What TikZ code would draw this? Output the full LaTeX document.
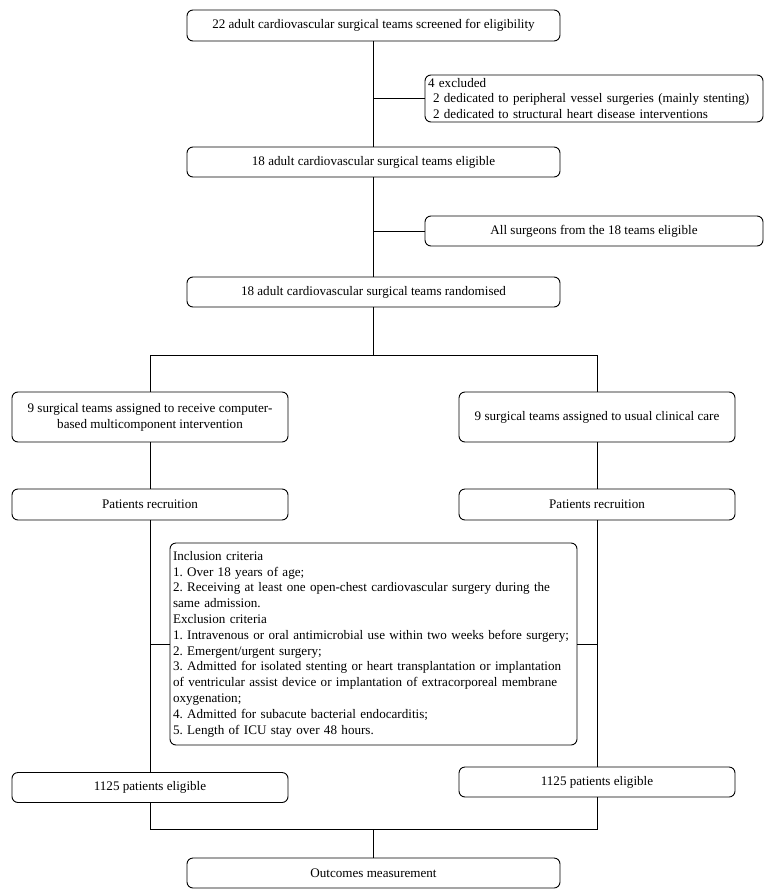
\documentclass[tikz,border=0pt]{standalone}
\usepackage{fontspec}
\setmainfont{Liberation Serif}
\frenchspacing

\tikzset{
  box/.style={draw, rounded corners=6pt, line width=0.9pt, inner sep=3pt,
    font=\fontsize{13.1}{15.8}\selectfont},
  wide/.style={minimum width=373pt, minimum height=30pt},
  side/.style={minimum width=338pt, minimum height=30pt},
  arm/.style={minimum width=276pt, minimum height=30pt},
  link/.style={line width=0.9pt}
}

\begin{document}
\begin{tikzpicture}[x=1pt, y=-1pt]
\useasboundingbox (0,0) rectangle (765,891);

% Screening
\node [box, wide, minimum height=31pt] (screen) at (373.5, 25.5) {22 adult cardiovascular surgical teams screened for eligibility};
\node [box, side, minimum height=47pt, text width=332pt, align=left] (excl) at (594, 98.5)
  {4 excluded\\\hspace*{5pt}2 dedicated to peripheral vessel surgeries (mainly stenting)\\\hspace*{5pt}2 dedicated to structural heart disease interventions};
\node [box, wide] (elig) at (373.5, 162) {18 adult cardiovascular surgical teams eligible};
\node [box, side] (surgeons) at (594, 231) {All surgeons from the 18 teams eligible};
\node [box, wide] (rand) at (373.5, 292) {18 adult cardiovascular surgical teams randomised};

% Arms
\node [box, arm, minimum height=50pt, align=center] (armA) at (150, 417) {9 surgical teams assigned to receive computer-\\based multicomponent intervention};
\node [box, arm, minimum height=50pt] (armB) at (597, 417) {9 surgical teams assigned to usual clinical care};
\node [box, arm, minimum height=31pt] (recA) at (150, 504.5) {Patients recruition};
\node [box, arm, minimum height=31pt] (recB) at (597, 504.5) {Patients recruition};

% Criteria
\node [box, minimum width=407pt, minimum height=202pt, text width=401pt, align=left] (crit) at (373.5, 644)
  {Inclusion criteria\\
   1. Over 18 years of age;\\
   2. Receiving at least one open-chest cardiovascular surgery during the\\
   same admission.\\
   Exclusion criteria\\
   1. Intravenous or oral antimicrobial use within two weeks before surgery;\\
   2. Emergent/urgent surgery;\\
   3. Admitted for isolated stenting or heart transplantation or implantation\\
   of ventricular assist device or implantation of extracorporeal membrane\\
   oxygenation;\\
   4. Admitted for subacute bacterial endocarditis;\\
   5. Length of ICU stay over 48 hours.};

% Eligible patients and outcomes
\node [box, arm] (eligA) at (150, 787.5) {1125 patients eligible};
\node [box, arm] (eligB) at (597, 782) {1125 patients eligible};
\node [box, wide] (outcome) at (373.5, 873) {Outcomes measurement};

% Connectors
\coordinate (split) at (373.5, 355);
\coordinate (join) at (373.5, 829);
\draw [link] (screen) -- (elig);
\draw [link] (excl.west) -- (excl.west -| screen.south);
\draw [link] (elig) -- (rand);
\draw [link] (surgeons.west) -- (surgeons.west -| elig.south);
\draw [link] (rand) -- (split);
\draw [link] (armA.north) -- (armA.north |- split) -- (armB.north |- split) -- (armB.north);
\draw [link] (armA) -- (recA);
\draw [link] (armB) -- (recB);
\draw [link] (recA) -- (eligA);
\draw [link] (recB) -- (eligB);
\draw [link] (crit.west) -- (crit.west -| recA.south);
\draw [link] (crit.east) -- (crit.east -| recB.south);
\draw [link] (eligA.south) -- (eligA.south |- join) -- (eligB.south |- join) -- (eligB.south);
\draw [link] (join) -- (outcome);
\end{tikzpicture}
\end{document}
